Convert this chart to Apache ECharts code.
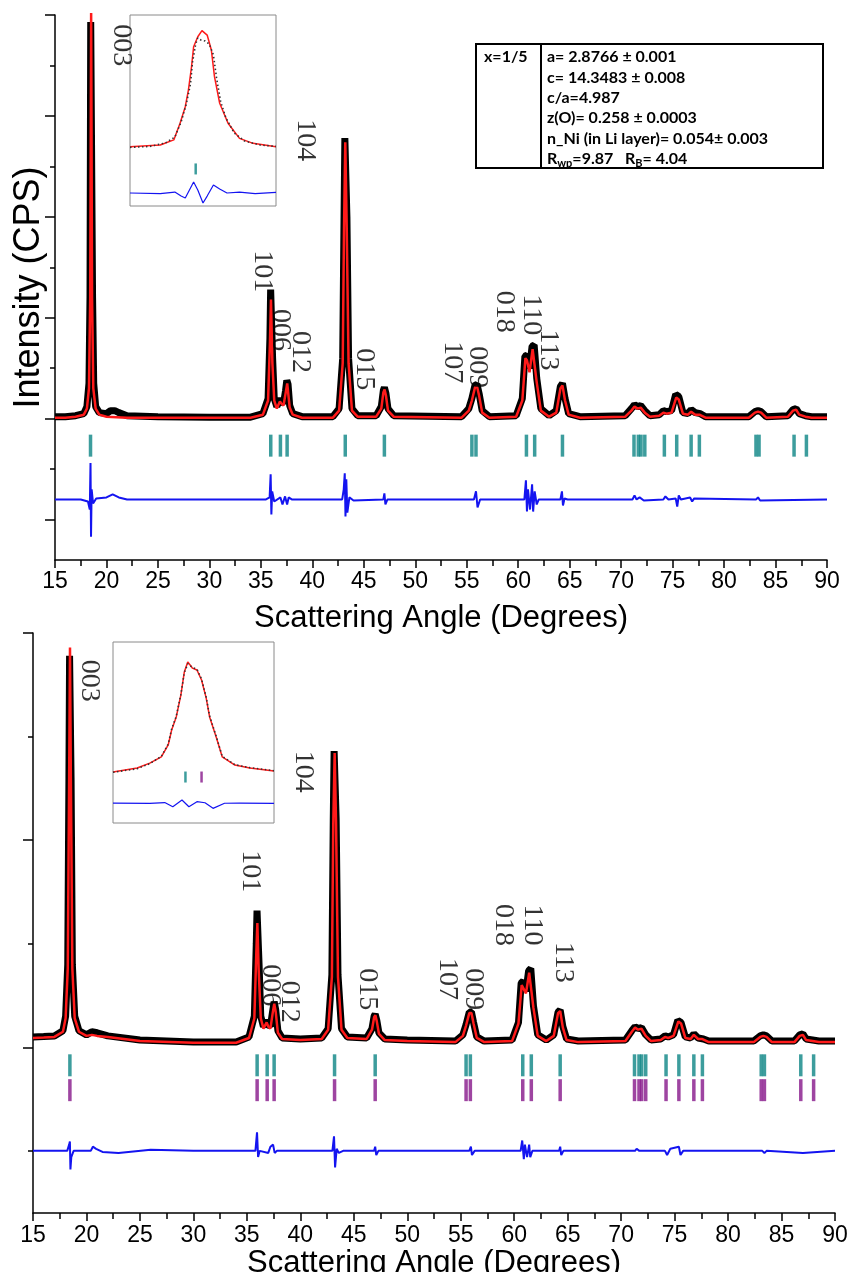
<!DOCTYPE html>
<html><head><meta charset="utf-8">
<script src="https://cdn.jsdelivr.net/npm/echarts@6/dist/echarts.min.js"></script>
<style>html,body{margin:0;padding:0;background:#fff}#c{width:854px;height:1272px}</style>
</head><body><div id="c"></div>
<script>
// ---------------- DATA ----------------
const X_LABEL = 'Scattering Angle (Degrees)';
const Y_LABEL = 'Intensity (CPS)';
const PEAK_LABELS = ['003','101','006','012','104','015','107','009','018','110','113'];
// Bragg reflection positions (degrees 2θ)
const BRAGG = [18.45,35.96,36.9,37.55,43.2,47.0,55.5,55.9,60.8,61.6,64.3,71.25,71.67,71.93,72.3,74.2,75.4,76.8,77.6,83.1,83.4,86.8,88.0];
// Top pattern (x = 1/5): observed, calculated, difference
const TOP_OBS = [[15,0.02],[16,0.02],[17,0.03],[17.8,0.05],[18.1,0.12],[18.3,0.35],[18.4,1.2],[18.47,3.93],[18.57,3.93],[18.65,1.2],[18.76,0.35],[18.95,0.12],[19.3,0.06],[20,0.05],[20.4,0.08],[20.8,0.08],[21.2,0.06],[22,0.03],[25,0.02],[30,0.015],[34,0.015],[35.2,0.05],[35.7,0.2],[35.88,0.8],[35.95,1.28],[36.03,1.28],[36.14,0.6],[36.3,0.2],[36.55,0.12],[36.85,0.2],[37.0,0.17],[37.2,0.15],[37.4,0.28],[37.52,0.38],[37.64,0.34],[37.8,0.13],[38.1,0.05],[39,0.02],[42,0.02],[42.6,0.1],[42.95,0.6],[43.08,2.0],[43.16,2.78],[43.26,2.78],[43.36,2.0],[43.52,0.6],[43.85,0.1],[44.4,0.03],[46.2,0.03],[46.7,0.12],[46.9,0.28],[47.0,0.31],[47.15,0.25],[47.35,0.1],[47.9,0.03],[54.5,0.02],[55.2,0.1],[55.5,0.2],[55.8,0.33],[56.0,0.34],[56.2,0.25],[56.5,0.08],[57.2,0.02],[59.8,0.03],[60.4,0.2],[60.65,0.62],[60.85,0.63],[61.1,0.5],[61.35,0.72],[61.55,0.73],[61.8,0.4],[62.2,0.1],[63,0.03],[63.7,0.08],[64.1,0.32],[64.3,0.35],[64.55,0.2],[64.9,0.05],[66,0.02],[70.4,0.03],[71.0,0.1],[71.3,0.14],[71.6,0.12],[71.9,0.13],[72.3,0.08],[72.8,0.03],[73.7,0.04],[74.1,0.08],[74.4,0.07],[74.9,0.08],[75.3,0.24],[75.6,0.22],[76.0,0.06],[76.5,0.05],[76.8,0.09],[77.2,0.06],[77.7,0.05],[78.2,0.02],[82.4,0.02],[83.0,0.07],[83.3,0.08],[83.6,0.07],[84.1,0.02],[86.2,0.03],[86.7,0.09],[87.0,0.1],[87.3,0.05],[87.9,0.03],[88.5,0.02],[90,0.02]];
const TOP_CALC = [[15,0.01],[16,0.01],[17,0.02],[17.8,0.04],[18.1,0.1],[18.3,0.3],[18.42,1.2],[18.51,4.02],[18.6,1.2],[18.72,0.3],[18.95,0.1],[19.3,0.04],[20,0.02],[22,0.01],[25,0.01],[30,0.01],[34,0.01],[35.2,0.04],[35.7,0.18],[35.88,0.75],[35.98,1.18],[36.12,0.55],[36.3,0.18],[36.55,0.1],[36.85,0.17],[37.0,0.15],[37.2,0.13],[37.4,0.25],[37.56,0.35],[37.8,0.11],[38.1,0.04],[39,0.01],[42,0.01],[42.6,0.08],[42.95,0.55],[43.08,1.9],[43.2,2.74],[43.34,1.9],[43.52,0.55],[43.85,0.08],[44.4,0.02],[46.2,0.02],[46.7,0.1],[46.9,0.26],[47.02,0.29],[47.15,0.23],[47.35,0.08],[47.9,0.02],[54.5,0.01],[55.2,0.08],[55.5,0.18],[55.8,0.31],[56.0,0.32],[56.2,0.23],[56.5,0.06],[57.2,0.01],[59.8,0.02],[60.4,0.18],[60.7,0.6],[60.85,0.58],[61.1,0.46],[61.4,0.69],[61.55,0.68],[61.8,0.36],[62.2,0.08],[63,0.02],[63.7,0.06],[64.1,0.3],[64.3,0.33],[64.55,0.18],[64.9,0.04],[66,0.01],[70.4,0.02],[71.0,0.08],[71.3,0.12],[71.6,0.1],[71.9,0.11],[72.3,0.06],[72.8,0.02],[73.7,0.03],[74.1,0.06],[74.4,0.05],[74.9,0.06],[75.35,0.21],[75.6,0.19],[76.0,0.05],[76.5,0.04],[76.8,0.07],[77.2,0.04],[77.6,0.04],[78.2,0.01],[82.4,0.01],[83.0,0.06],[83.3,0.07],[83.6,0.06],[84.1,0.01],[86.2,0.02],[86.7,0.08],[87.0,0.09],[87.3,0.04],[87.9,0.02],[88.5,0.01],[90,0.01]];
const TOP_DIFF = [[15,-0.8],[17.5,-0.8],[18.2,-0.82],[18.38,-0.9],[18.45,-0.44],[18.5,-1.17],[18.56,-0.7],[18.7,-0.84],[19,-0.79],[20,-0.78],[20.6,-0.75],[21.2,-0.78],[22,-0.8],[35.5,-0.8],[35.85,-0.78],[35.95,-0.55],[36.02,-0.95],[36.1,-0.72],[36.3,-0.82],[36.9,-0.78],[37.1,-0.85],[37.35,-0.77],[37.55,-0.85],[37.7,-0.78],[38,-0.8],[42.9,-0.8],[43.05,-0.7],[43.15,-0.54],[43.22,-0.97],[43.3,-0.6],[43.4,-0.93],[43.6,-0.78],[44,-0.81],[46.9,-0.8],[47.0,-0.74],[47.1,-0.85],[47.3,-0.8],[55.7,-0.8],[55.9,-0.72],[56.05,-0.88],[56.3,-0.8],[60.6,-0.8],[60.75,-0.61],[60.85,-0.92],[60.95,-0.7],[61.15,-0.9],[61.35,-0.65],[61.45,-0.92],[61.6,-0.72],[61.8,-0.85],[62,-0.8],[64.1,-0.8],[64.25,-0.72],[64.35,-0.86],[64.5,-0.79],[64.8,-0.8],[71.1,-0.8],[71.3,-0.76],[71.5,-0.8],[71.8,-0.78],[72.2,-0.81],[74.1,-0.8],[74.3,-0.77],[74.6,-0.8],[75.3,-0.79],[75.45,-0.87],[75.6,-0.76],[75.8,-0.8],[76.7,-0.78],[76.9,-0.82],[77.1,-0.79],[83.1,-0.8],[83.3,-0.78],[83.5,-0.81],[90,-0.8]];
// Bottom pattern: observed, calculated, difference
const BOT_OBS = [[15,0.05],[16,0.052],[17,0.055],[17.8,0.08],[18.05,0.15],[18.25,0.4],[18.36,1.3],[18.42,1.89],[18.5,1.89],[18.56,1.3],[18.68,0.4],[18.9,0.15],[19.3,0.08],[20,0.06],[20.5,0.075],[21,0.07],[22,0.055],[25,0.035],[30,0.025],[34,0.025],[35.2,0.05],[35.7,0.15],[35.88,0.5],[35.95,0.66],[36.03,0.66],[36.14,0.4],[36.3,0.15],[36.55,0.1],[36.85,0.13],[37.0,0.11],[37.2,0.1],[37.4,0.17],[37.55,0.22],[37.7,0.18],[37.9,0.08],[38.3,0.045],[40,0.04],[42,0.045],[42.6,0.09],[42.95,0.35],[43.08,1.1],[43.16,1.43],[43.26,1.43],[43.35,1.1],[43.52,0.35],[43.85,0.09],[44.4,0.05],[46.2,0.045],[46.7,0.09],[46.9,0.15],[47.0,0.16],[47.15,0.13],[47.35,0.07],[47.9,0.04],[50,0.035],[54.5,0.03],[55.2,0.06],[55.5,0.11],[55.8,0.17],[56.0,0.17],[56.2,0.12],[56.5,0.05],[57.2,0.03],[59.8,0.035],[60.4,0.12],[60.65,0.31],[60.85,0.32],[61.1,0.27],[61.35,0.37],[61.55,0.38],[61.8,0.2],[62.2,0.06],[63,0.035],[63.7,0.06],[64.1,0.17],[64.3,0.18],[64.55,0.1],[64.9,0.04],[66,0.03],[70.4,0.035],[71.0,0.08],[71.3,0.1],[71.6,0.09],[71.9,0.095],[72.3,0.06],[72.8,0.035],[73.7,0.04],[74.1,0.055],[74.4,0.05],[74.9,0.06],[75.3,0.13],[75.6,0.12],[76.0,0.05],[76.5,0.045],[76.8,0.065],[77.2,0.045],[77.7,0.04],[78.2,0.03],[82.4,0.03],[83.0,0.055],[83.3,0.06],[83.6,0.055],[84.1,0.03],[86.2,0.03],[86.7,0.06],[87.0,0.065],[87.3,0.04],[87.9,0.035],[88.5,0.03],[90,0.03]];
const BOT_CALC = [[15,0.045],[16,0.047],[17,0.05],[17.8,0.075],[18.05,0.14],[18.25,0.38],[18.38,1.3],[18.46,1.93],[18.54,1.3],[18.68,0.38],[18.9,0.14],[19.3,0.075],[20,0.055],[20.5,0.06],[21,0.055],[22,0.05],[25,0.03],[30,0.022],[34,0.022],[35.2,0.045],[35.7,0.14],[35.88,0.45],[35.98,0.6],[36.1,0.38],[36.3,0.14],[36.55,0.09],[36.85,0.12],[37.0,0.1],[37.2,0.09],[37.4,0.16],[37.56,0.21],[37.7,0.17],[37.9,0.07],[38.3,0.04],[40,0.035],[42,0.04],[42.6,0.085],[42.95,0.34],[43.08,1.08],[43.21,1.42],[43.34,1.08],[43.52,0.34],[43.85,0.085],[44.4,0.045],[46.2,0.04],[46.7,0.085],[46.9,0.145],[47.02,0.155],[47.15,0.125],[47.35,0.065],[47.9,0.035],[50,0.03],[54.5,0.025],[55.2,0.055],[55.5,0.105],[55.8,0.165],[56.0,0.165],[56.2,0.115],[56.5,0.045],[57.2,0.025],[59.8,0.03],[60.4,0.115],[60.7,0.3],[60.85,0.3],[61.1,0.26],[61.4,0.36],[61.55,0.36],[61.8,0.19],[62.2,0.055],[63,0.03],[63.7,0.055],[64.1,0.165],[64.3,0.175],[64.55,0.095],[64.9,0.035],[66,0.025],[70.4,0.03],[71.0,0.075],[71.3,0.095],[71.6,0.085],[71.9,0.09],[72.3,0.055],[72.8,0.03],[73.7,0.035],[74.1,0.05],[74.4,0.045],[74.9,0.055],[75.35,0.125],[75.6,0.115],[76.0,0.045],[76.5,0.04],[76.8,0.06],[77.2,0.04],[77.6,0.04],[78.2,0.025],[82.4,0.025],[83.0,0.05],[83.3,0.055],[83.6,0.05],[84.1,0.025],[86.2,0.025],[86.7,0.055],[87.0,0.06],[87.3,0.035],[87.9,0.03],[88.5,0.025],[90,0.025]];
const BOT_DIFF = [[15,-0.5],[18.2,-0.5],[18.38,-0.47],[18.45,-0.455],[18.5,-0.59],[18.58,-0.53],[18.8,-0.5],[20.4,-0.5],[20.6,-0.48],[20.9,-0.49],[21.5,-0.505],[23,-0.51],[26,-0.495],[30,-0.5],[35.8,-0.5],[35.95,-0.41],[36.05,-0.53],[36.2,-0.5],[37.0,-0.51],[37.2,-0.48],[37.45,-0.47],[37.6,-0.51],[37.8,-0.5],[43.0,-0.5],[43.15,-0.43],[43.25,-0.58],[43.4,-0.49],[43.6,-0.51],[44,-0.5],[46.9,-0.5],[47.0,-0.48],[47.1,-0.52],[47.3,-0.5],[55.8,-0.5],[55.95,-0.48],[56.05,-0.52],[56.3,-0.5],[60.6,-0.5],[60.75,-0.45],[60.9,-0.54],[61.0,-0.47],[61.2,-0.53],[61.4,-0.47],[61.5,-0.53],[61.7,-0.5],[64.2,-0.5],[64.3,-0.48],[64.4,-0.52],[64.6,-0.5],[71.3,-0.5],[71.45,-0.49],[71.7,-0.5],[74.1,-0.5],[74.3,-0.52],[74.6,-0.49],[75.4,-0.48],[75.55,-0.52],[75.8,-0.5],[83.2,-0.5],[83.4,-0.51],[83.6,-0.5],[87,-0.51],[90,-0.5]];
// Insets: zoom of the 003 reflection (arbitrary intensity 0-100)
const INSET_TOP_OBS = [[17.90,30.7],[18.09,31.2],[18.24,33.0],[18.33,36.1],[18.39,44.0],[18.44,53.4],[18.48,63.9],[18.50,75.4],[18.53,84.8],[18.55,88.0],[18.58,86.9],[18.62,86.4],[18.66,84.8],[18.70,79.1],[18.73,67.0],[18.77,54.5],[18.82,46.1],[18.90,38.2],[19.00,34.0],[19.15,31.9],[19.30,31.2]];
const INSET_TOP_CALC = [[17.90,31.0],[18.19,31.9],[18.32,34.6],[18.38,43.3],[18.43,52.0],[18.46,60.7],[18.49,72.9],[18.51,83.4],[18.55,88.6],[18.59,91.8],[18.64,89.5],[18.68,81.7],[18.71,67.7],[18.76,53.8],[18.84,43.3],[18.95,35.4],[19.08,32.8],[19.30,31.0]];
const INSET_TOP_DIFF = [[17.9,6.8],[18.19,6.5],[18.33,7.3],[18.39,5.2],[18.43,4.2],[18.47,8.4],[18.51,12.6],[18.55,8.4],[18.60,1.6],[18.64,5.2],[18.70,11.0],[18.76,8.9],[18.83,6.8],[18.95,7.3],[19.10,6.5],[19.30,7.1]];
const INSET_TOP_BRAGG = [[18.53,19.4]];
const INSET_BOT_OBS = [[17.90,28.0],[18.11,30.0],[18.22,32.8],[18.32,36.8],[18.38,43.6],[18.41,51.9],[18.45,59.0],[18.49,71.0],[18.52,83.0],[18.55,88.0],[18.59,86.0],[18.63,85.0],[18.67,79.5],[18.71,69.6],[18.74,59.1],[18.80,47.4],[18.85,36.8],[18.96,32.2],[19.09,30.6],[19.30,28.9]];
const INSET_BOT_CALC = [[17.90,28.2],[18.11,30.4],[18.22,33.1],[18.32,36.5],[18.38,43.1],[18.41,51.4],[18.45,58.6],[18.49,70.7],[18.52,83.4],[18.55,89.0],[18.59,85.6],[18.63,84.5],[18.67,79.0],[18.71,69.1],[18.74,58.6],[18.80,47.0],[18.85,36.5],[18.96,32.0],[19.09,30.4],[19.30,28.7]];
const INSET_BOT_DIFF = [[17.9,11.0],[18.22,10.8],[18.35,11.3],[18.42,9.0],[18.50,12.7],[18.56,9.0],[18.63,11.8],[18.70,11.2],[18.77,8.1],[18.87,10.9],[19.0,11.0],[19.30,10.8]];
const INSET_BOT_BRAGG1 = [[18.53,25.4]];
const INSET_BOT_BRAGG2 = [[18.67,25.4]];
// Refinement results
const INFO_HEAD = 'x=1/5';
const INFO_LINES = ['a= 2.8766 ± 0.001','c= 14.3483 ± 0.008','c/a=4.987','z(O)= 0.258 ± 0.0003','n_Ni (in Li layer)= 0.054± 0.003','R{sub|wp}=9.87   R{sub|B}= 4.04'];

// ---------------- LAYOUT (positions in axis units) ----------------
const TOP_LABEL_POS = [[21.4,3.70],[35.1,1.46],[36.86,0.88],[38.8,0.66],[39.3,2.76],[45.1,0.49],[53.6,0.56],[56.0,0.51],[58.7,1.06],[61.3,1.03],[62.9,0.68]];
const BOT_LABEL_POS = [[20.24,1.77],[35.3,0.85],[37.17,0.30],[38.95,0.22],[40.26,1.33],[46.24,0.28],[53.73,0.33],[56.16,0.28],[58.97,0.59],[61.68,0.59],[64.58,0.41]];
const TOP_BRAGG_Y = -0.267, BOT_BRAGG_Y1 = -0.087, BOT_BRAGG_Y2 = -0.207;

const RED = '#ff1a1a', BLUE = '#1414f0', TEAL = '#0d8585', PURPLE = '#86168a';
const SANS = 'Liberation Sans, Arial, sans-serif';
const SERIF = 'Liberation Serif, Times New Roman, serif';
const INFO_FONT = 'Lato, Open Sans, sans-serif';

function mainX(grid, margin, nameGap) {
  return {type:'value', gridIndex:grid, min:15, max:90, interval:5,
    axisLine:{show:true, onZero:false, lineStyle:{color:'#000', width:1.5}},
    axisTick:{show:true, length:8, inside:false, lineStyle:{color:'#000', width:1.5}},
    minorTick:{show:true, splitNumber:2, length:6, lineStyle:{color:'#000', width:1.5}},
    axisLabel:{show:true, color:'#000', fontSize:23, fontFamily:SANS, margin:margin},
    splitLine:{show:false}, minorSplitLine:{show:false},
    name:X_LABEL, nameLocation:'middle', nameGap:nameGap,
    nameTextStyle:{color:'#000', fontSize:31, fontFamily:SANS}};
}
function mainY(grid, min, max, major, minor, name) {
  return [{type:'value', gridIndex:grid, min:min, max:max, position:'left',
    axisLine:{show:true, onZero:false, lineStyle:{color:'#000', width:1.5}},
    axisTick:{show:true, length:10, customValues:major, lineStyle:{color:'#000', width:1.5}},
    axisLabel:{show:false}, splitLine:{show:false},
    name:name||'', nameLocation:'middle', nameGap:8, nameRotate:90,
    nameTextStyle:{color:'#000', fontSize:36, fontFamily:SANS}},
   {type:'value', gridIndex:grid, min:min, max:max, position:'left',
    axisLine:{show:false, onZero:false},
    axisTick:{show:true, length:5, customValues:minor, lineStyle:{color:'#000', width:1.5}},
    axisLabel:{show:false}, splitLine:{show:false}}];
}
function hiddenAxis(grid, min, max) {
  return {type:'value', gridIndex:grid, min:min, max:max, show:false,
    axisLine:{show:false, onZero:false}, splitLine:{show:false}};
}
function lineS(xi, yi, data, color, width, extra) {
  return Object.assign({type:'line', xAxisIndex:xi, yAxisIndex:yi, data:data,
    symbol:'none', showSymbol:false, lineStyle:{color:color, width:width},
    itemStyle:{color:color}, silent:true, animation:false}, extra||{});
}
function tickS(xi, yi, data, color, size, z) {
  return {type:'scatter', xAxisIndex:xi, yAxisIndex:yi, data:data, symbol:'rect',
    symbolSize:size, itemStyle:{color:color}, silent:true, z:z||3};
}
function labelS(xi, yi, pos) {
  return {type:'scatter', xAxisIndex:xi, yAxisIndex:yi, symbolSize:1,
    itemStyle:{color:'rgba(0,0,0,0)'}, silent:true, z:5,
    data: pos.map((p,i)=>[p[0], p[1], PEAK_LABELS[i]]),
    label:{show:true, position:'inside', rotate:-90, color:'#000', fontSize:28, fontFamily:SERIF,
      formatter:(p)=>p.value[2]}};
}

const chart = echarts.init(document.getElementById('c'), null, {renderer:'canvas'});
const option = {
  animation:false,
  backgroundColor:'#fff',
  grid:[
    {left:55, top:15, width:772, height:545, containLabel:false, outerBoundsMode:'none'},
    {left:33, top:633, width:802, height:580, containLabel:false, outerBoundsMode:'none'},
    {left:130, top:15, width:146, height:191, show:true, borderColor:'#8a8a8a', borderWidth:1, backgroundColor:'#fff', containLabel:false, outerBoundsMode:'none'},
    {left:113, top:642, width:161, height:181, show:true, borderColor:'#8a8a8a', borderWidth:1, backgroundColor:'#fff', containLabel:false, outerBoundsMode:'none'}
  ],
  xAxis:[mainX(0, 10, 43), mainX(1, 11, 30), hiddenAxis(2, 17.9, 19.3), hiddenAxis(3, 17.9, 19.3)],
  yAxis:[].concat(
    mainY(0, -1.4, 4.0, [-1,0,1,2,3,4], [-0.5,0.5,1.5,2.5,3.5], Y_LABEL),
    mainY(1, -0.8, 2.0, [0,1,2], [-0.5,0.5,1.5], ''),
    [hiddenAxis(2, 0, 100), hiddenAxis(3, 0, 100)]
  ),
  series:[
    // top main
    lineS(0,0,TOP_OBS,'#000',7,{z:2}),
    lineS(0,0,TOP_CALC,RED,2.5,{z:3, clip:false}),
    lineS(0,0,TOP_DIFF,BLUE,2,{z:3}),
    tickS(0,0,BRAGG.map(b=>[b,TOP_BRAGG_Y]),TEAL,[3.5,22]),
    labelS(0,0,TOP_LABEL_POS),
    // bottom main
    lineS(1,2,BOT_OBS,'#000',7,{z:2}),
    lineS(1,2,BOT_CALC,RED,2.5,{z:3}),
    lineS(1,2,BOT_DIFF,BLUE,2,{z:3}),
    tickS(1,2,BRAGG.map(b=>[b,BOT_BRAGG_Y1]),TEAL,[3.5,22]),
    tickS(1,2,BRAGG.map(b=>[b,BOT_BRAGG_Y2]),PURPLE,[3.5,22]),
    labelS(1,2,BOT_LABEL_POS),
    // insets
    lineS(2,4,INSET_TOP_CALC,RED,1.5,{z:10}),
    lineS(2,4,INSET_TOP_OBS,'#333',1.6,{z:11, lineStyle:{color:'#333', width:1.6, type:[1.5,2.5]}}),
    lineS(2,4,INSET_TOP_DIFF,BLUE,1.2,{z:10}),
    tickS(2,4,INSET_TOP_BRAGG,TEAL,[2.5,11],10),
    lineS(3,5,INSET_BOT_CALC,RED,1.5,{z:10}),
    lineS(3,5,INSET_BOT_OBS,'#333',1.6,{z:11, lineStyle:{color:'#333', width:1.6, type:[1.5,2.5]}}),
    lineS(3,5,INSET_BOT_DIFF,BLUE,1.2,{z:10}),
    tickS(3,5,INSET_BOT_BRAGG1,TEAL,[2.5,11],10),
    tickS(3,5,INSET_BOT_BRAGG2,PURPLE,[2.5,11],10)
  ],
  graphic:[
    {type:'rect', z:100, shape:{x:476, y:44, width:347, height:124}, style:{fill:'#fff', stroke:'#000', lineWidth:2}},
    {type:'line', z:101, shape:{x1:541, y1:44, x2:541, y2:168}, style:{stroke:'#000', lineWidth:2}},
    {type:'text', z:101, x:484, y:47, style:{text:INFO_HEAD, fill:'#000', fontSize:16, fontWeight:'bold', fontFamily:INFO_FONT, lineHeight:20.3}},
    {type:'text', z:101, x:547, y:47, style:{text:INFO_LINES.join('\n'), fill:'#000', fontSize:16, fontWeight:'bold', fontFamily:INFO_FONT, lineHeight:20.3,
      rich:{sub:{fontSize:11, fontWeight:'bold', fontFamily:INFO_FONT, fill:'#000', verticalAlign:'bottom', lineHeight:14}}}}
  ]
};
chart.setOption(option);
</script></body></html>
